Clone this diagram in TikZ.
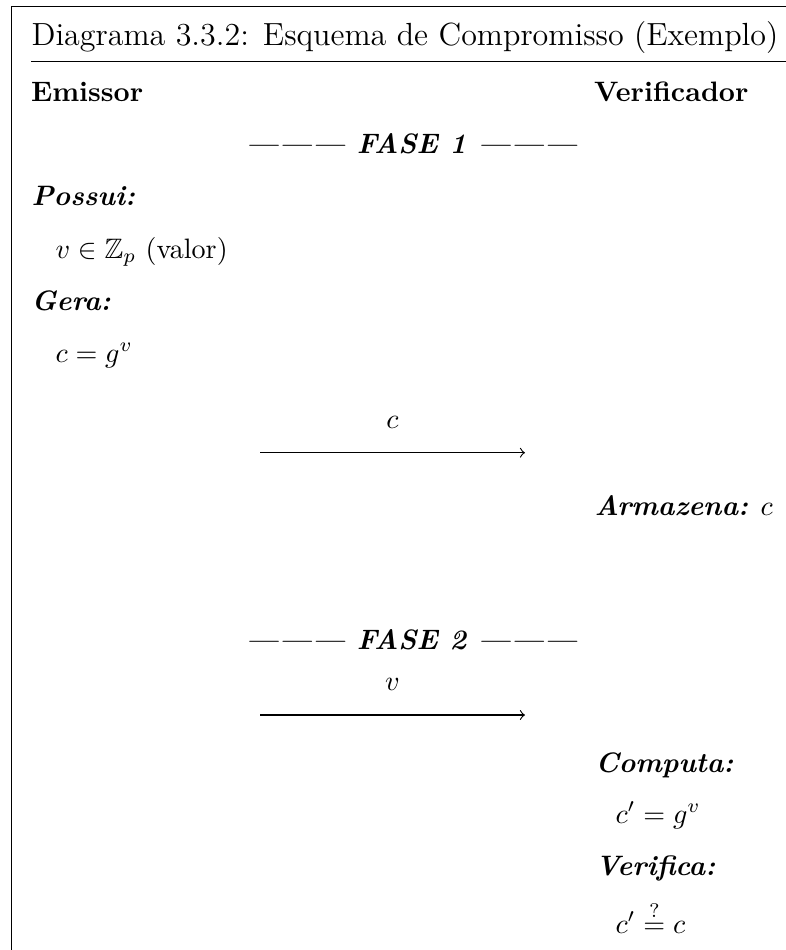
\documentclass[tikz,border=0pt]{standalone}
\usepackage{amssymb}
\begin{document}
\begin{tikzpicture}[x=0.3559pt,y=-0.3559pt,
  txt/.style={inner sep=0pt, anchor=base west},
  hd/.style={txt, font=\bfseries},
  lbl/.style={txt, font=\bfseries\itshape},
  msg/.style={->, line width=0.4pt},
  frameline/.style={line width=0.5pt}]
\useasboundingbox (0,0) rectangle (786,950);
% frame
\coordinate (fb) at (11.5,950);
\coordinate (fc) at (11.5,6.7);
\coordinate (fr) at (786,6.7);
\draw[frameline] (fb) -- (fc) -- (fr);
% title
\node[txt, font=\fontsize{11.4}{13.5}\selectfont] (title) at (31,45) {Diagrama 3.3.2: Esquema de Compromisso (Exemplo)};
\coordinate (rl) at (31,61.7);
\coordinate (rr) at (786,61.7);
\draw[line width=0.4pt] (rl) -- (rr);
% headers
\node[hd] (em) at (30.5,101) {Emissor};
\node[hd, anchor=base east] (ver) at (749,101) {Verificador};
% phase 1
\node[lbl, anchor=base] (f1) at (411.5,153) {--------- FASE 1 ---------};
\node[lbl] (pos) at (31,205) {Possui:};
\node[txt] (val) at (55,258) {$v \in \mathbb{Z}_p$ (valor)};
\node[lbl] (gera) at (31,310) {Gera:};
\node[txt] (cg) at (55,362) {$c = g^v$};
\coordinate (a1s) at (260,452.7);
\coordinate (a1e) at (525,452.7);
\draw[msg] (a1s) -- (a1e);
\node[txt, anchor=base] (c1) at (392.5,428) {$c$};
\node[txt] (arm) at (594,515) {\textbf{\textit{Armazena:}} $c$};
% phase 2
\node[lbl, anchor=base] (f2) at (411.5,649) {--------- FASE 2 ---------};
\coordinate (a2s) at (260,715);
\coordinate (a2e) at (525,715);
\draw[msg] (a2s) -- (a2e);
\node[txt, anchor=base] (v2) at (392.5,690) {$v$};
\node[lbl] (comp) at (595,772) {Computa:};
\node[txt] (cp) at (615,823) {$c' = g^v$};
\node[lbl] (verif) at (595,875) {Verifica:};
\node[txt] (chk) at (615,933) {$c' \stackrel{?}{=} c$};
\end{tikzpicture}
\end{document}
